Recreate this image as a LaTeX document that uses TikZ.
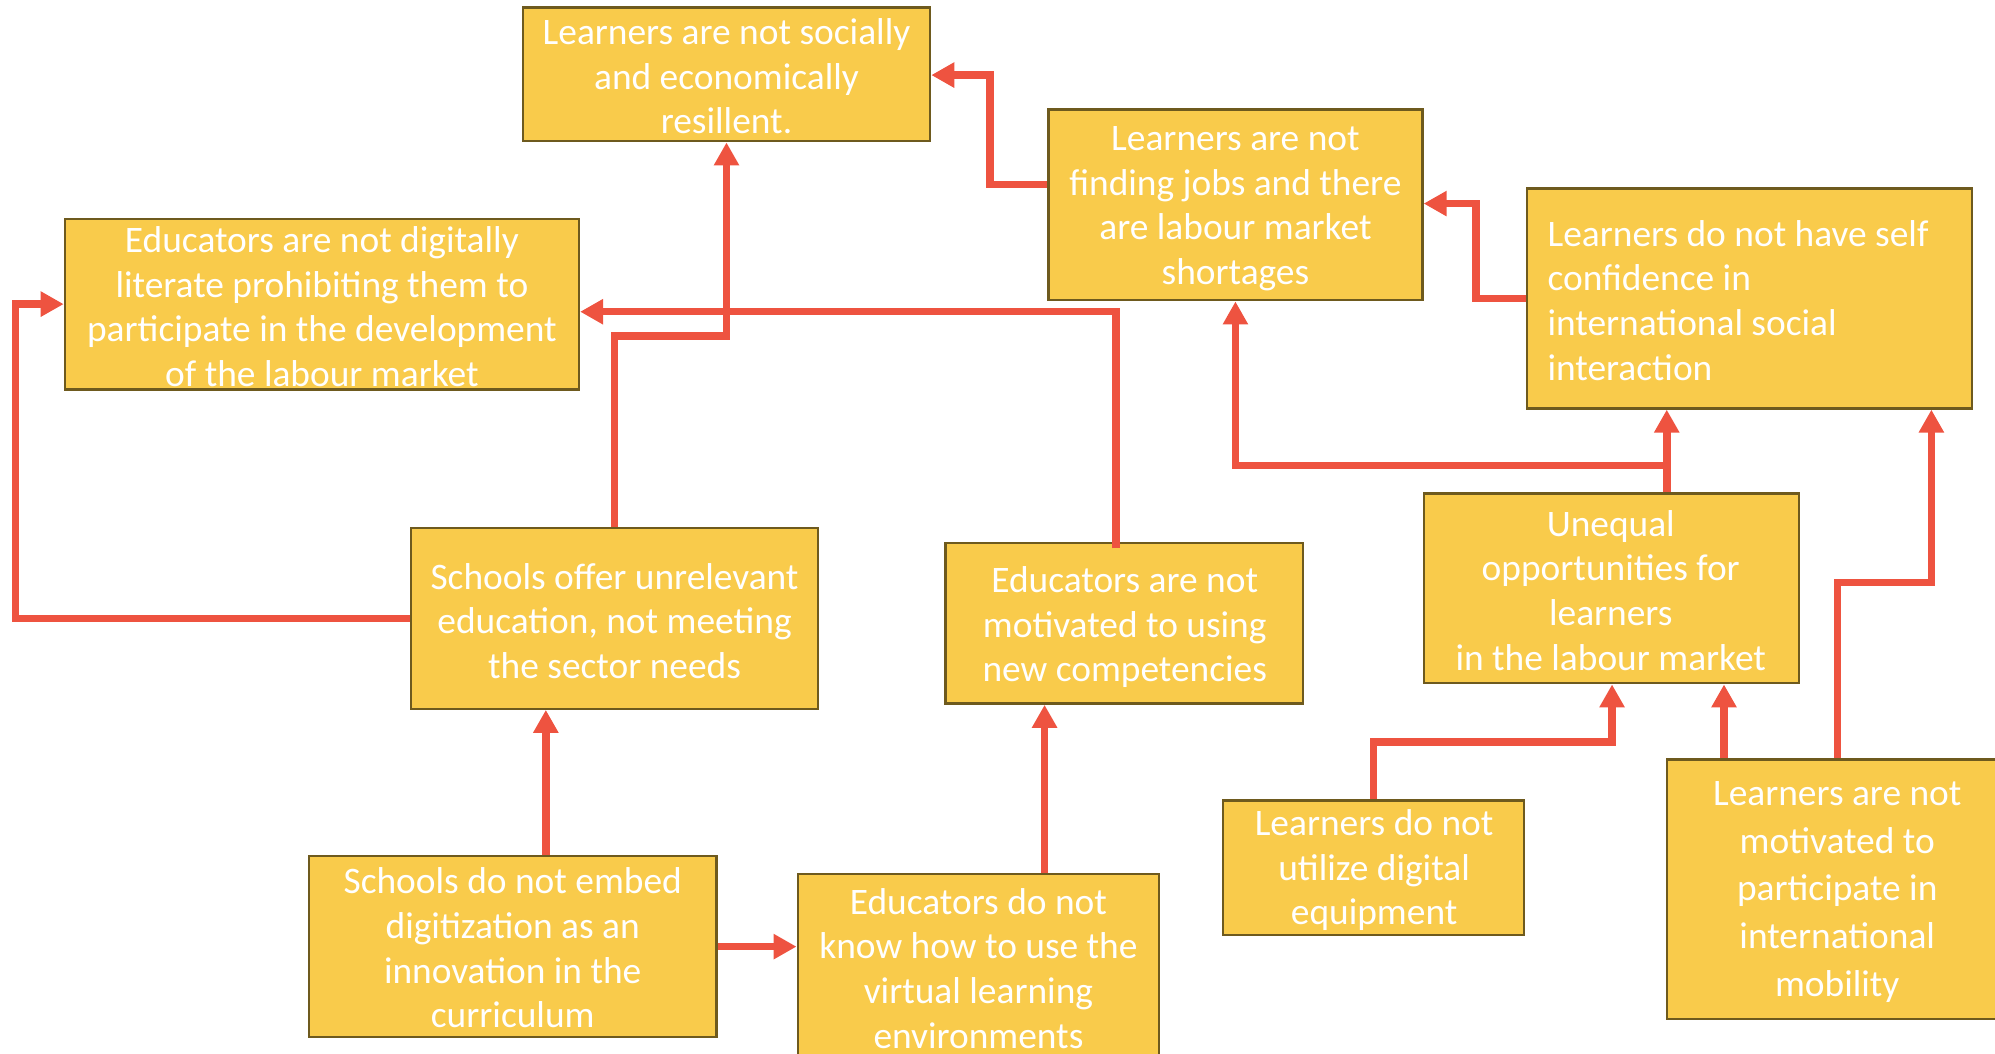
\documentclass[tikz,border=0pt]{standalone}
\usepackage{fontspec}
\setmainfont{Carlito}
\usetikzlibrary{arrows.meta,fit}
\definecolor{boxfill}{RGB}{249,203,75}
\definecolor{boxedge}{RGB}{110,90,30}
\definecolor{linkred}{RGB}{238,83,64}
\begin{document}
\begin{tikzpicture}[x=0.6362pt,y=-0.6362pt,
  box/.style={draw=boxedge, fill=boxfill, line width=1.2pt, inner sep=0pt, rectangle},
  lbl/.style={text=white, align=center, inner sep=0pt, font=\fontsize{18.7}{22.3}\selectfont},
  lblwide/.style={lbl, font=\fontsize{18.7}{23.9}\selectfont},
  link/.style={draw=linkred, line width=3.75pt, line join=miter,
    -{Triangle[width=12pt,length=11.5pt]}}]
\useasboundingbox (0,0) rectangle (1568,828);

% boxes
\node[box, fit={(411,6) (731,111)}] (A) {};
\node[box, fit={(824,86) (1118,236)}] (B) {};
\node[box, fit={(1200,148) (1550,321)}] (C) {};
\node[box, fit={(51,172) (455,306)}] (D) {};
\node[box, fit={(323,415) (643,557)}] (E) {};
\node[box, fit={(743,427) (1024,553)}] (F) {};
\node[box, fit={(1119,388) (1414,537)}] (G) {};
\node[box, fit={(243,673) (563,815)}] (H) {};
\node[box, fit={(627,687) (911,832)}] (I) {};
\node[box, fit={(961,629) (1198,735)}] (J) {};
\node[box, fit={(1310,597) (1578,801)}] (K) {};

% bend points of the connectors
\coordinate (bEA) at (571,264);
\coordinate (bFD) at (877,245);
\coordinate (bED) at (12,239);
\coordinate (xHE) at (429,0);
\coordinate (xIF) at (821,0);
\coordinate (bBA1) at (778,145);
\coordinate (bBA2) at (778,59);
\coordinate (bCB) at (1160,160);
\coordinate (xGC) at (1310,0);
\coordinate (yGB) at (0,366);
\coordinate (bJG) at (1267,583);
\coordinate (xKG) at (1355,0);
\coordinate (bKC) at (1518,458);

% connectors
\draw[link] (E.north) |- (bEA) -- (A.south);
\draw[link] (F.north -| bFD) ++(0,5) -- (bFD) -- (D.east |- bFD);
\draw[link] (E.west) -| (bED) -- (D.west);
\draw[link] (H.north -| xHE) -- (E.south -| xHE);
\draw[link] (H.east) -- (I.west |- H.east);
\draw[link] (I.north -| xIF) -- (F.south -| xIF);
\draw[link] (B.west |- bBA1) -- (bBA1) -- (bBA2) -- (A.east |- bBA2);
\draw[link] (C.west) -| (bCB) -- (B.east |- bCB);
\draw[link] (G.north -| xGC) -- (C.south -| xGC);
\draw[link] (G.north -| xGC) |- (B.south |- yGB) -- (B.south);
\draw[link] (J.north) |- (bJG) -- (G.south -| bJG);
\draw[link] (K.north -| xKG) -- (G.south -| xKG);
\draw[link] (K.north) |- (bKC) -- (C.south -| bKC);

% labels
\node[lbl] at (571,60) {Learners are not socially\\and economically\\resillent.};
\node[lbl] at (971,164) {Learners are not\\finding jobs and there\\are labour market\\shortages};
\node[lbl, align=left, anchor=west] at (1216,236) {Learners do not have self\\confidence in\\international social\\interaction};
\node[lbl] at (253,241) {Educators are not digitally\\literate prohibiting them to\\participate in the development\\of the labour market};
\node[lbl] at (483,488) {Schools offer unrelevant\\education, not meeting\\the sector needs};
\node[lbl] at (884,493) {Educators are not\\motivated to using\\new competencies};
\node[lbl] at (1266,464) {Unequal\\opportunities for\\learners\\in the labour market};
\node[lbl] at (403,745) {Schools do not embed\\digitization as an\\innovation in the\\curriculum};
\node[lbl] at (769,761) {Educators do not\\know how to use the\\virtual learning\\environments};
\node[lbl] at (1080,684) {Learners do not\\utilize digital\\equipment};
\node[lblwide] at (1444,701) {Learners are not\\motivated to\\participate in\\international\\mobility};
\end{tikzpicture}
\end{document}
